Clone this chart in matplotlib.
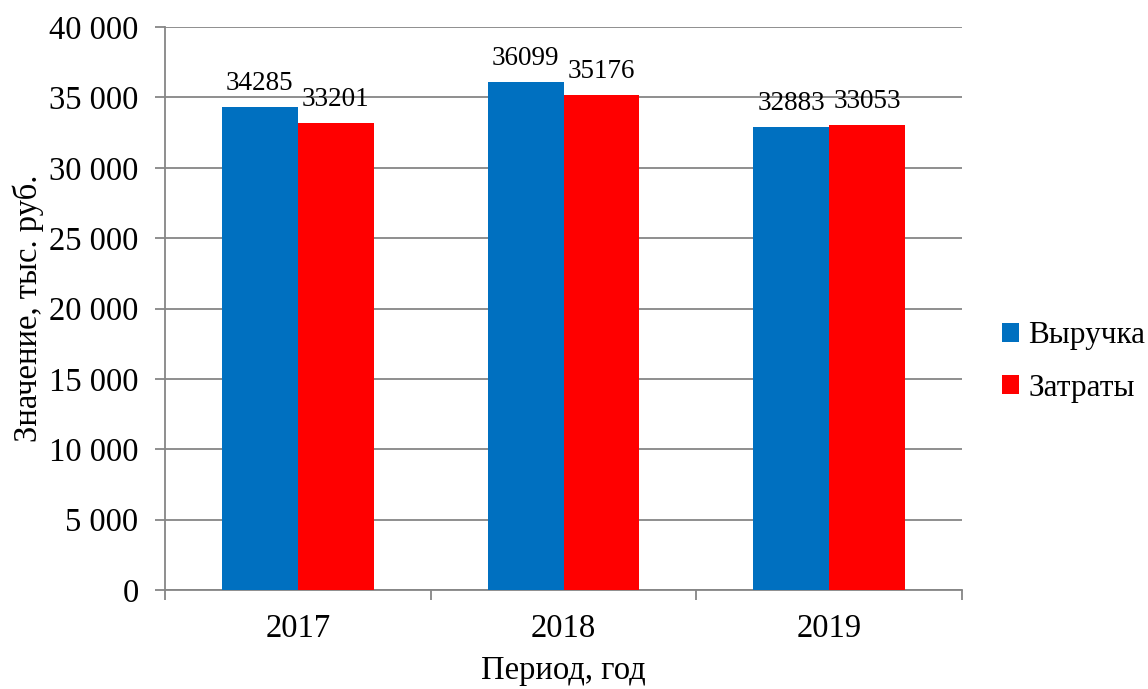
import matplotlib
matplotlib.use("Agg")
import matplotlib.pyplot as plt
from matplotlib.ticker import FuncFormatter, MultipleLocator
import numpy as np

years = ["2017", "2018", "2019"]
revenue = [34285, 36099, 32883]
costs = [33201, 35176, 33053]
series_names = ["Выручка", "Затраты"]

plt.rcParams["font.family"] = ["Liberation Serif", "DejaVu Serif"]

fig = plt.figure(figsize=(11.48, 6.89), dpi=100)
ax = fig.add_axes([165 / 1148, 1 - 590 / 689, (962 - 165) / 1148, (590 - 27) / 689])

x = np.arange(len(years))
w = 1 / 3.5
blue = "#0070C0"
red = "#FF0000"
b1 = ax.bar(x - w / 2, revenue, w, color=blue, label=series_names[0], zorder=3)
b2 = ax.bar(x + w / 2, costs, w, color=red, label=series_names[1], zorder=3)

ax.bar_label(b1, labels=[str(v) for v in revenue], padding=8, fontsize=19.5)
ax.bar_label(b2, labels=[str(v) for v in costs], padding=8, fontsize=19.5)

ax.set_xlim(-0.5, 2.5)
ax.set_ylim(0, 40000)
ax.yaxis.set_major_locator(MultipleLocator(5000))
ax.yaxis.set_major_formatter(FuncFormatter(lambda v, p: f"{int(v):,}".replace(",", " ")))

grid_c = "#868686"
ax.grid(axis="y", color=grid_c, linewidth=1.3, zorder=0)
for s in ["top", "right"]:
    ax.spines[s].set_visible(False)
for s in ["left", "bottom"]:
    ax.spines[s].set_color(grid_c)
    ax.spines[s].set_linewidth(1.3)

ax.set_xticks(x)
ax.set_xticklabels(years)
ax.set_xticks([-0.5, 0.5, 1.5, 2.5], minor=True)
ax.tick_params(axis="x", which="major", length=0, pad=17, labelsize=23.5)
ax.tick_params(axis="x", which="minor", length=7, width=1.3, color=grid_c)
ax.tick_params(axis="y", length=7, width=1.3, color=grid_c, pad=12, labelsize=23.5)

ax.set_ylabel("Значение, тыс. руб.", fontsize=23.5, labelpad=4)
ax.set_xlabel("Период, год", fontsize=23.5, labelpad=8)

fig.legend(handles=[b1, b2], loc="center left", bbox_to_anchor=(1002 / 1148, 1 - 362 / 689),
           frameon=False, fontsize=22.5, handlelength=0.55, handleheight=0.55,
           handletextpad=0.3, labelspacing=0.75, borderaxespad=0, borderpad=0)

fig.savefig("out.png", dpi=100)
